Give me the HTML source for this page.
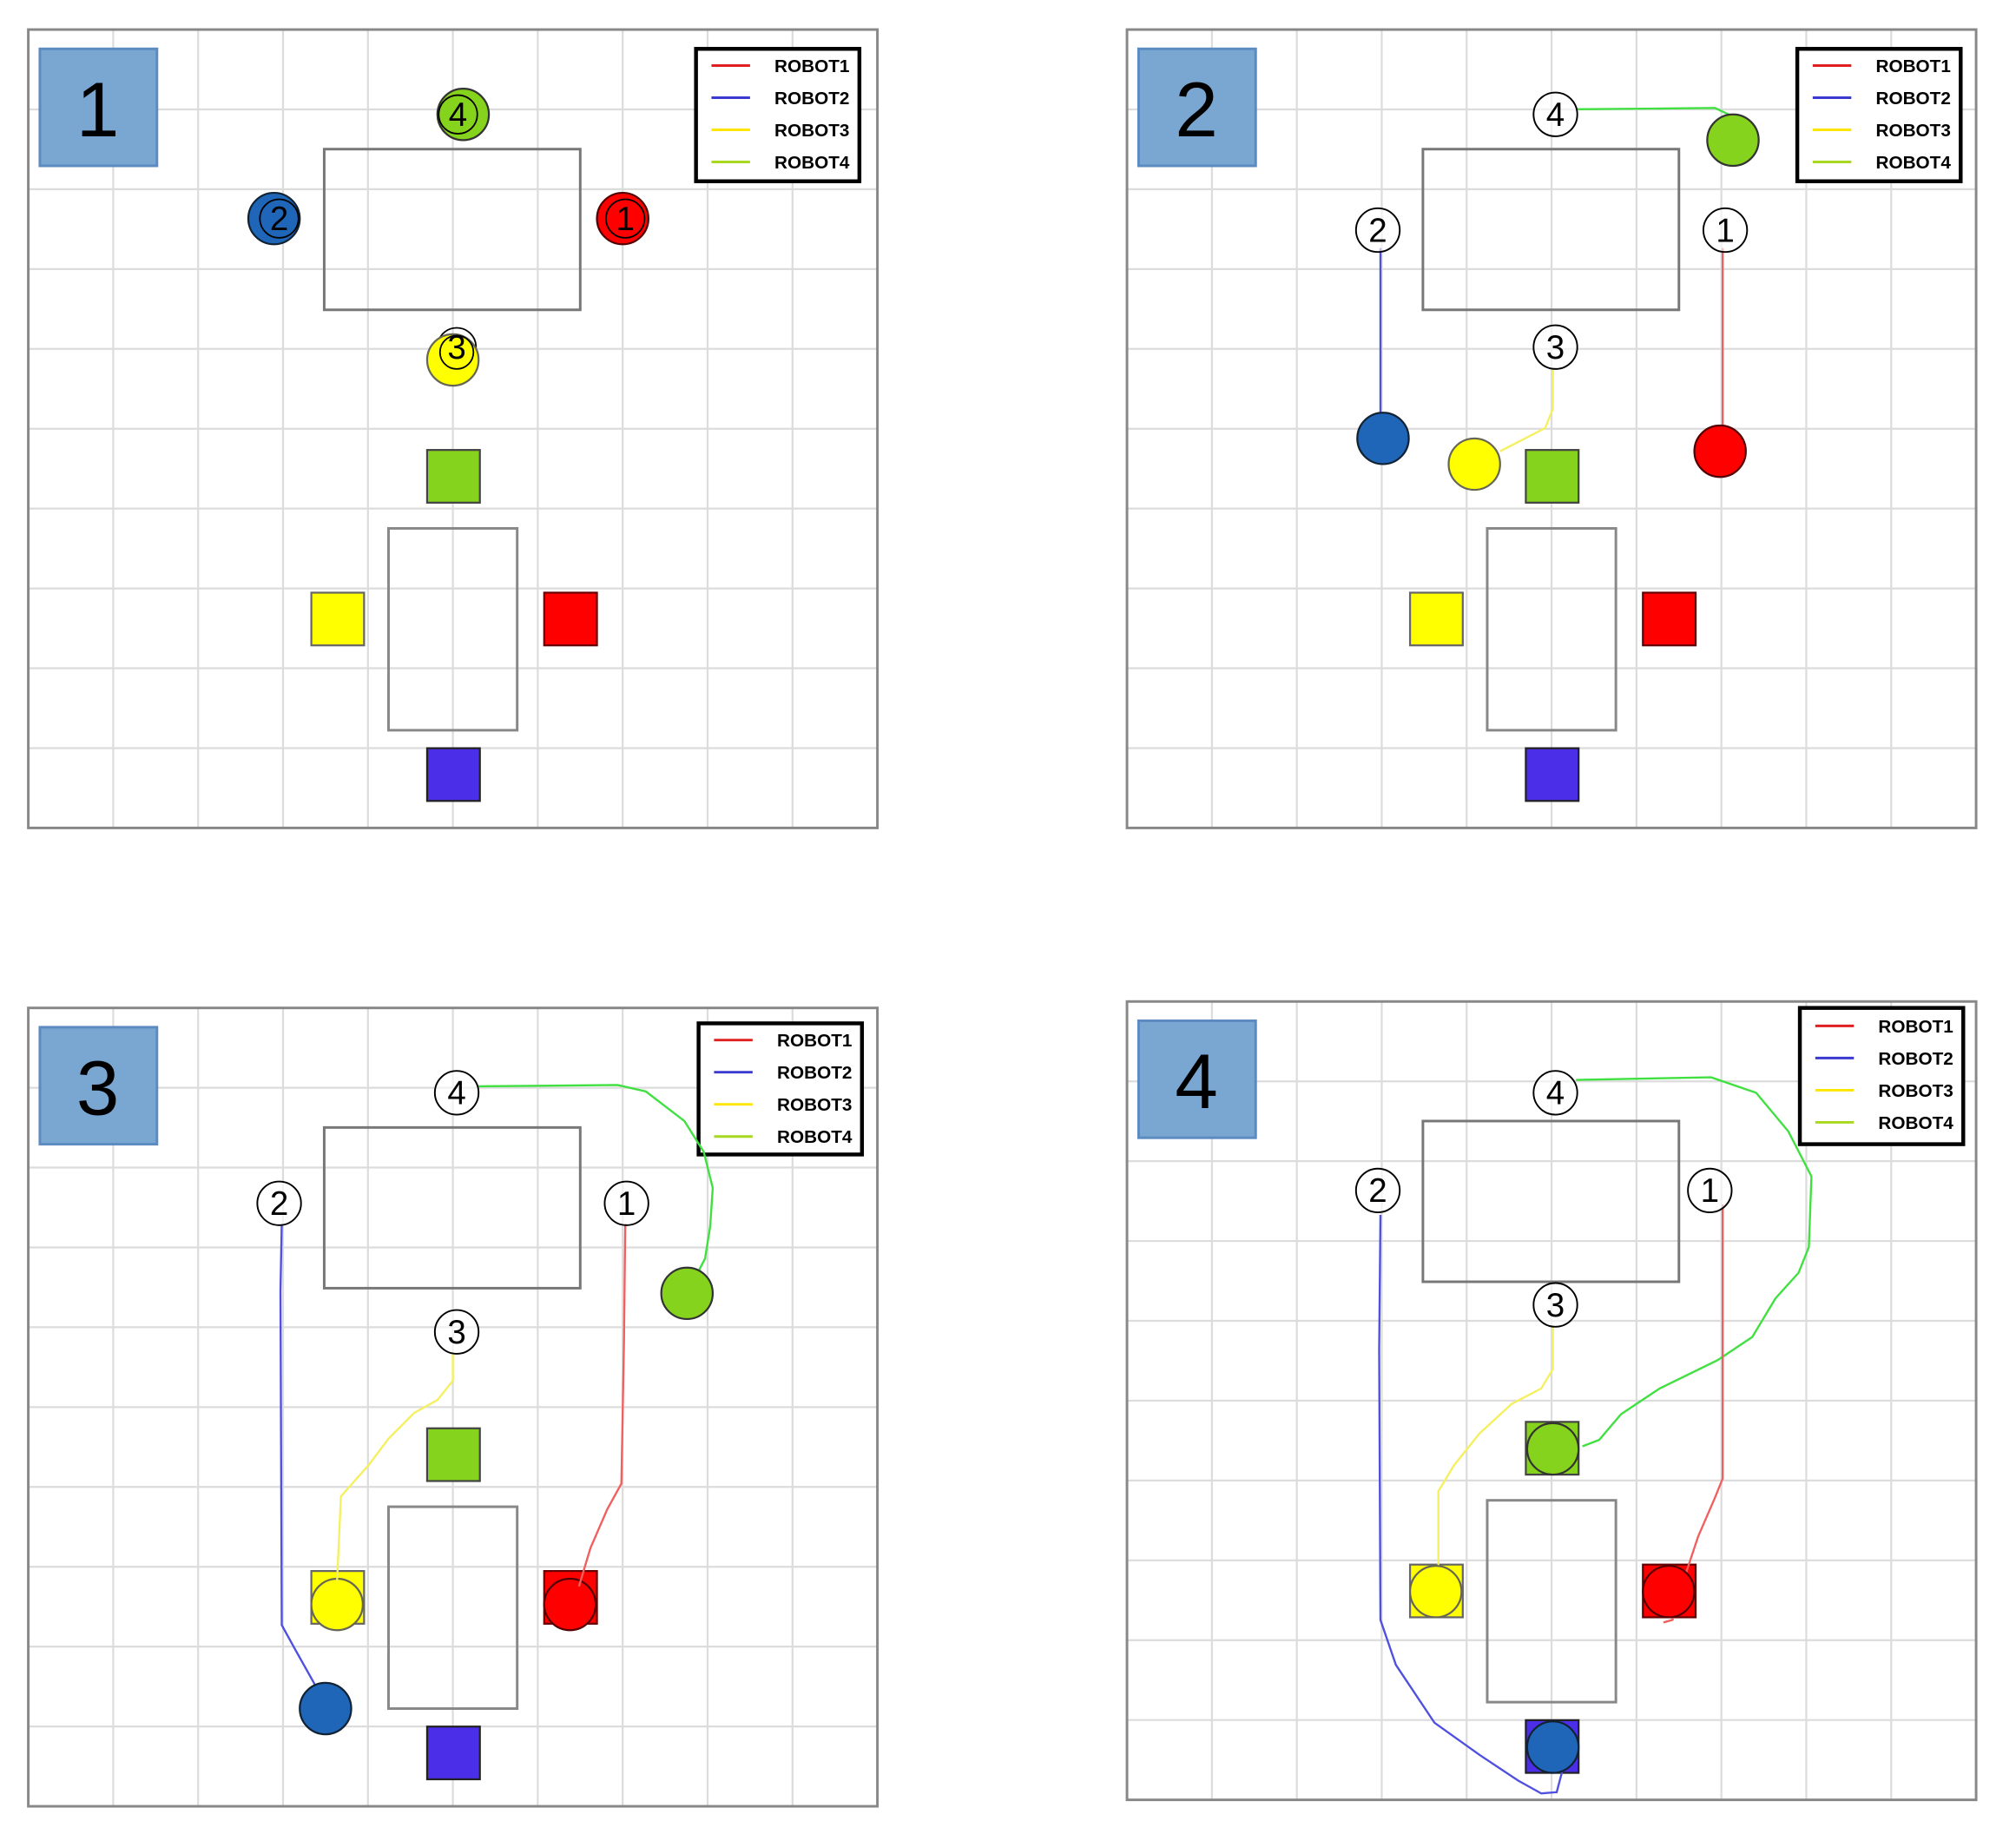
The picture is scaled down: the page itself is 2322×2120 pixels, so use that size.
<!DOCTYPE html>
<html><head><meta charset="utf-8"><style>
html,body{margin:0;padding:0;background:#fff;}
svg{display:block;}
text{font-family:"Liberation Sans",sans-serif;}
.lg{font-weight:bold;font-size:14px;}
.wp{font-size:26px;}
</style></head><body>
<svg width="2322" height="2120" viewBox="0 0 1567 1432" preserveAspectRatio="none" xmlns="http://www.w3.org/2000/svg">
<defs>
<path id="grid" d="M66 0V621M132 0V621M198 0V621M264 0V621M330 0V621M396 0V621M462 0V621M528 0V621M594 0V621M0 62.1H660M0 124.2H660M0 186.3H660M0 248.4H660M0 310.5H660M0 372.6H660M0 434.7H660M0 496.8H660M0 558.9H660" stroke="#dcdcdc" stroke-width="1.5" fill="none"/>
<g id="stat">
<rect x="0" y="0" width="660" height="621" fill="#fff"/>
<use href="#grid"/>
<rect x="0" y="0" width="660" height="621" fill="none" stroke="#888" stroke-width="2"/>
<rect x="9" y="15" width="91" height="91" fill="#7aa6d2" stroke="#5b8bc0" stroke-width="2"/>
<rect x="230" y="93" width="199" height="125" fill="none" stroke="#777" stroke-width="2"/>
<rect x="280" y="388" width="100" height="157" fill="none" stroke="#888" stroke-width="2"/>
<rect x="310" y="327" width="41" height="41" fill="#86d31d" stroke="#444" stroke-width="1.5"/>
<rect x="220" y="438" width="41" height="41" fill="#ffff00" stroke="#666" stroke-width="1.5"/>
<rect x="401" y="438" width="41" height="41" fill="#ff0000" stroke="#600" stroke-width="1.5"/>
<rect x="310" y="559" width="41" height="41" fill="#4b2ee8" stroke="#222" stroke-width="1.5"/>
</g>
</defs>

<!-- Panel 1 -->
<g transform="translate(22,23)">
<use href="#stat"/>
<text x="54" y="83" font-size="60" text-anchor="middle">1</text>
<rect x="519" y="15" width="127" height="103" fill="#fff" stroke="#000" stroke-width="3"/>
<line x1="531" y1="28" x2="561" y2="28" stroke="#e02020" stroke-width="2"/><text class="lg" x="580" y="33">ROBOT1</text>
<line x1="531" y1="53" x2="561" y2="53" stroke="#3a3ad0" stroke-width="2"/><text class="lg" x="580" y="58">ROBOT2</text>
<line x1="531" y1="78" x2="561" y2="78" stroke="#ffe600" stroke-width="2"/><text class="lg" x="580" y="83">ROBOT3</text>
<line x1="531" y1="103" x2="561" y2="103" stroke="#a8d820" stroke-width="2"/><text class="lg" x="580" y="108">ROBOT4</text>
<circle cx="338" cy="66" r="20" fill="#86d31d" stroke="#333" stroke-width="1.5"/>
<circle cx="334" cy="66" r="15" fill="none" stroke="#000" stroke-width="1.2"/><text class="wp" x="334" y="75" text-anchor="middle">4</text>
<circle cx="191" cy="147" r="20" fill="#1f66b8" stroke="#123" stroke-width="1.5"/>
<circle cx="195" cy="147" r="15" fill="none" stroke="#000" stroke-width="1.2"/><text class="wp" x="195" y="156" text-anchor="middle">2</text>
<circle cx="462" cy="147" r="20" fill="#f00" stroke="#500" stroke-width="1.5"/>
<circle cx="464" cy="147" r="15" fill="none" stroke="#000" stroke-width="1.2"/><text class="wp" x="464" y="156" text-anchor="middle">1</text>
<circle cx="333" cy="247" r="15" fill="none" stroke="#000" stroke-width="1.2"/>
<circle cx="330" cy="257" r="20" fill="#ffff00" stroke="#665" stroke-width="1.5"/>
<circle cx="333" cy="251" r="13" fill="none" stroke="#000" stroke-width="1.2"/><text class="wp" x="333" y="256" text-anchor="middle">3</text>
</g>

<!-- Panel 2 -->
<g transform="translate(876,23)">
<use href="#stat"/>
<text x="54" y="83" font-size="60" text-anchor="middle">2</text>
<rect x="521" y="15" width="127" height="103" fill="#fff" stroke="#000" stroke-width="3"/>
<line x1="533" y1="28" x2="563" y2="28" stroke="#e02020" stroke-width="2"/><text class="lg" x="582" y="33">ROBOT1</text>
<line x1="533" y1="53" x2="563" y2="53" stroke="#3a3ad0" stroke-width="2"/><text class="lg" x="582" y="58">ROBOT2</text>
<line x1="533" y1="78" x2="563" y2="78" stroke="#ffe600" stroke-width="2"/><text class="lg" x="582" y="83">ROBOT3</text>
<line x1="533" y1="103" x2="563" y2="103" stroke="#a8d820" stroke-width="2"/><text class="lg" x="582" y="108">ROBOT4</text>
<polyline points="349,62 457,61 474,69" fill="none" stroke="#40e040" stroke-width="1.6"/>
<polyline points="197,170 197,298" fill="none" stroke="#5050e0" stroke-width="1.6"/>
<polyline points="463,170 463,308" fill="none" stroke="#f06060" stroke-width="1.6"/>
<polyline points="331,264 331,295 325,310 290,328" fill="none" stroke="#f5f060" stroke-width="1.6"/>
<circle cx="471" cy="86" r="20" fill="#86d31d" stroke="#333" stroke-width="1.5"/>
<circle cx="199" cy="318" r="20" fill="#1f66b8" stroke="#123" stroke-width="1.5"/>
<circle cx="270" cy="338" r="20" fill="#ffff00" stroke="#665" stroke-width="1.5"/>
<circle cx="461" cy="328" r="20" fill="#f00" stroke="#500" stroke-width="1.5"/>
<circle cx="333" cy="66" r="17" fill="#fff" fill-opacity="0.6" stroke="#000" stroke-width="1.3"/><text class="wp" x="333" y="75" text-anchor="middle">4</text>
<circle cx="195" cy="156" r="17" fill="#fff" fill-opacity="0.6" stroke="#000" stroke-width="1.3"/><text class="wp" x="195" y="165" text-anchor="middle">2</text>
<circle cx="465" cy="156" r="17" fill="#fff" fill-opacity="0.6" stroke="#000" stroke-width="1.3"/><text class="wp" x="465" y="165" text-anchor="middle">1</text>
<circle cx="333" cy="247" r="17" fill="#fff" fill-opacity="0.6" stroke="#000" stroke-width="1.3"/><text class="wp" x="333" y="256" text-anchor="middle">3</text>
</g>

<!-- Panel 3 -->
<g transform="translate(22,784)">
<use href="#stat"/>
<text x="54" y="83" font-size="60" text-anchor="middle">3</text>
<rect x="521" y="12" width="127" height="102" fill="#fff" stroke="#000" stroke-width="3"/>
<line x1="533" y1="25" x2="563" y2="25" stroke="#e02020" stroke-width="2"/><text class="lg" x="582" y="30">ROBOT1</text>
<line x1="533" y1="50" x2="563" y2="50" stroke="#3a3ad0" stroke-width="2"/><text class="lg" x="582" y="55">ROBOT2</text>
<line x1="533" y1="75" x2="563" y2="75" stroke="#ffe600" stroke-width="2"/><text class="lg" x="582" y="80">ROBOT3</text>
<line x1="533" y1="100" x2="563" y2="100" stroke="#a8d820" stroke-width="2"/><text class="lg" x="582" y="105">ROBOT4</text>
<circle cx="240" cy="464" r="20" fill="#ffff00" stroke="#665" stroke-width="1.5"/>
<circle cx="421" cy="464" r="20" fill="#f00" stroke="#500" stroke-width="1.5"/>
<polyline points="349,61 458,60 480,65 510,88 525,112 532,140 530,170 526,195 512,222" fill="none" stroke="#40e040" stroke-width="1.6"/>
<polyline points="197,168 196,220 197,480 208,500 222,525 231,545" fill="none" stroke="#5050e0" stroke-width="1.6"/>
<polyline points="464,168 463,260 461,370 450,390 437,420 428,450" fill="none" stroke="#f06060" stroke-width="1.6"/>
<polyline points="330,268 330,290 318,305 300,315 280,335 265,355 243,380 240,446" fill="none" stroke="#f5f060" stroke-width="1.6"/>
<circle cx="512" cy="222" r="20" fill="#86d31d" stroke="#333" stroke-width="1.5"/>
<circle cx="231" cy="545" r="20" fill="#1f66b8" stroke="#123" stroke-width="1.5"/>
<circle cx="333" cy="66" r="17" fill="#fff" fill-opacity="0.6" stroke="#000" stroke-width="1.3"/><text class="wp" x="333" y="75" text-anchor="middle">4</text>
<circle cx="195" cy="152" r="17" fill="#fff" fill-opacity="0.6" stroke="#000" stroke-width="1.3"/><text class="wp" x="195" y="161" text-anchor="middle">2</text>
<circle cx="465" cy="152" r="17" fill="#fff" fill-opacity="0.6" stroke="#000" stroke-width="1.3"/><text class="wp" x="465" y="161" text-anchor="middle">1</text>
<circle cx="333" cy="252" r="17" fill="#fff" fill-opacity="0.6" stroke="#000" stroke-width="1.3"/><text class="wp" x="333" y="261" text-anchor="middle">3</text>
</g>

<!-- Panel 4 -->
<g transform="translate(876,779)">
<use href="#stat"/>
<text x="54" y="83" font-size="60" text-anchor="middle">4</text>
<rect x="523" y="5" width="127" height="106" fill="#fff" stroke="#000" stroke-width="3"/>
<line x1="535" y1="19" x2="565" y2="19" stroke="#e02020" stroke-width="2"/><text class="lg" x="584" y="24">ROBOT1</text>
<line x1="535" y1="44" x2="565" y2="44" stroke="#3a3ad0" stroke-width="2"/><text class="lg" x="584" y="49">ROBOT2</text>
<line x1="535" y1="69" x2="565" y2="69" stroke="#ffe600" stroke-width="2"/><text class="lg" x="584" y="74">ROBOT3</text>
<line x1="535" y1="94" x2="565" y2="94" stroke="#a8d820" stroke-width="2"/><text class="lg" x="584" y="99">ROBOT4</text>
<polyline points="349,61 454,59 489,71 514,101 532,136 530,191 522,211 504,231 486,261 459,279 414,301 384,321 367,341 354,346" fill="none" stroke="#40e040" stroke-width="1.6"/>
<polyline points="197,166 196,271 197,481 209,516 239,561 274,586 304,606 322,616 334,615 339,596" fill="none" stroke="#5050e0" stroke-width="1.6"/>
<polyline points="463,158 463,371 457,386 444,416 434,446 424,481 417,483" fill="none" stroke="#f06060" stroke-width="1.6"/>
<polyline points="331,253 331,286 322,301 299,313 274,336 254,361 242,381 242,461" fill="none" stroke="#f5f060" stroke-width="1.6"/>
<circle cx="331" cy="348" r="20" fill="#86d31d" stroke="#333" stroke-width="1.5"/>
<circle cx="240" cy="459" r="20" fill="#ffff00" stroke="#665" stroke-width="1.5"/>
<circle cx="421" cy="459" r="20" fill="#f00" stroke="#500" stroke-width="1.5"/>
<circle cx="331" cy="580" r="20" fill="#1f66b8" stroke="#123" stroke-width="1.5"/>
<circle cx="333" cy="71" r="17" fill="#fff" fill-opacity="0.6" stroke="#000" stroke-width="1.3"/><text class="wp" x="333" y="80" text-anchor="middle">4</text>
<circle cx="195" cy="147" r="17" fill="#fff" fill-opacity="0.6" stroke="#000" stroke-width="1.3"/><text class="wp" x="195" y="156" text-anchor="middle">2</text>
<circle cx="453" cy="147" r="17" fill="#fff" fill-opacity="0.6" stroke="#000" stroke-width="1.3"/><text class="wp" x="453" y="156" text-anchor="middle">1</text>
<circle cx="333" cy="236" r="17" fill="#fff" fill-opacity="0.6" stroke="#000" stroke-width="1.3"/><text class="wp" x="333" y="245" text-anchor="middle">3</text>
</g>
</svg>
</body></html>
